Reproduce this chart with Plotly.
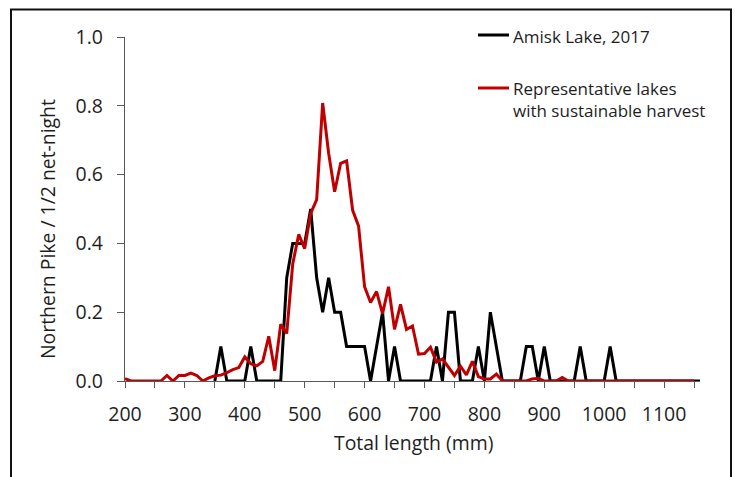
import plotly.graph_objects as go

# ---- data ----
rep_lengths = [200, 210, 220, 230, 240, 250, 260, 270, 280, 290,
               300, 310, 320, 330, 340, 350, 360, 370, 380, 390,
               400, 410, 420, 430, 440, 450, 460, 470, 480, 490,
               500, 510, 520, 530, 540, 550, 560, 570, 580, 590,
               600, 610, 620, 630, 640, 650, 660, 670, 680, 690,
               700, 710, 720, 730, 740, 750, 760, 770, 780, 790,
               800, 810, 820, 830, 840, 850, 860, 870, 880, 890,
               900, 910, 920, 930, 940, 950, 960, 970, 980, 990,
               1000, 1010, 1020, 1030, 1040, 1050, 1060, 1070, 1080, 1090,
               1100, 1110, 1120, 1130, 1140, 1150]
rep_values = [0.007, 0, 0, 0, 0, 0, 0, 0.016, 0, 0.016,
              0.016, 0.023, 0.016, 0, 0.009, 0.015, 0.017, 0.024, 0.033, 0.039,
              0.07, 0.05, 0.044, 0.057, 0.13, 0.03, 0.165, 0.138, 0.34, 0.426,
              0.385, 0.487, 0.527, 0.808, 0.662, 0.55, 0.633, 0.64, 0.497, 0.45,
              0.274, 0.228, 0.26, 0.196, 0.274, 0.15, 0.223, 0.15, 0.16, 0.078,
              0.08, 0.098, 0.055, 0.064, 0.04, 0.016, 0.043, 0.018, 0.057, 0.013,
              0.006, 0.006, 0.02, 0, 0, 0, 0, 0, 0.006, 0.008,
              0, 0, 0, 0.01, 0, 0, 0, 0, 0, 0,
              0, 0, 0, 0, 0, 0, 0, 0, 0, 0,
              0, 0, 0, 0, 0, 0]

amisk_lengths = [350, 360, 370, 380, 390,
                 400, 410, 420, 430, 440, 450, 460, 470, 480, 490,
                 500, 510, 520, 530, 540, 550, 560, 570, 580, 590,
                 600, 610, 620, 630, 640, 650, 660, 670, 680, 690,
                 700, 710, 720, 730, 740, 750, 760, 770, 780, 790,
                 800, 810, 820, 830, 840, 850, 860, 870, 880, 890,
                 900, 910, 920, 930, 940, 950, 960, 970, 980, 990,
                 1000, 1010, 1020, 1030, 1040, 1050, 1060, 1070, 1080, 1090,
                 1100, 1110, 1120, 1130, 1140, 1150, 1160]
amisk_values = [0, 0.1, 0, 0, 0,
                0, 0.1, 0, 0, 0, 0, 0, 0.3, 0.4, 0.4,
                0.4, 0.5, 0.3, 0.2, 0.3, 0.2, 0.2, 0.1, 0.1, 0.1,
                0.1, 0, 0.1, 0.2, 0, 0.1, 0, 0, 0, 0,
                0, 0, 0.1, 0, 0.2, 0.2, 0, 0, 0, 0.1,
                0, 0.2, 0.1, 0, 0, 0, 0, 0.1, 0.1, 0,
                0.1, 0, 0, 0, 0, 0, 0.1, 0, 0, 0,
                0, 0.1, 0, 0, 0, 0, 0, 0, 0, 0,
                0, 0, 0, 0, 0, 0, 0]

x_tickvals = [200, 300, 400, 500, 600, 700, 800, 900, 1000, 1100]
x_ticktext = ["200", "300", "400", "500", "600", "700", "800", "900", "1000", "1100"]
y_tickvals = [0.0, 0.2, 0.4, 0.6, 0.8, 1.0]
y_ticktext = ["0.0", "0.2", "0.4", "0.6", "0.8", "1.0"]

series_names = ["Amisk Lake, 2017", "Representative lakes", "with sustainable harvest"]
x_title = "Total length (mm)"
y_title = "Northern Pike / 1/2 net-night"

BLACK = "#000000"
RED = "#C00000"
AXIS = "#595959"
TEXT = "#1e1e1e"
FONT = "Open Sans"

W, H = 735, 477
L, R, T, B = 125, 35, 37, 96
PW, PH = W - L - R, H - T - B


def px(xpix):
    return (xpix - L) / PW


def py(ypix):
    return (H - B - ypix) / PH


fig = go.Figure()
fig.add_trace(go.Scatter(x=amisk_lengths, y=amisk_values, mode="lines",
                         line=dict(color=BLACK, width=3), showlegend=False,
                         name=series_names[0]))
fig.add_trace(go.Scatter(x=rep_lengths, y=rep_values, mode="lines",
                         line=dict(color=RED, width=3), showlegend=False,
                         name=series_names[1] + " " + series_names[2]))

tickfont = dict(family=FONT, size=19.5, color=TEXT)

fig.update_xaxes(range=[200, 1160], tickvals=x_tickvals, ticktext=x_ticktext,
                 ticks="outside", ticklen=6, tickwidth=1.3, tickcolor=AXIS,
                 showline=True, linecolor=AXIS, linewidth=1.3,
                 showgrid=False, zeroline=False, tickfont=tickfont,
                 ticklabelstandoff=9,
                 minor=dict(dtick=50, tick0=200, ticks="outside", ticklen=6,
                            tickwidth=1.3, tickcolor=AXIS, showgrid=False))
fig.update_yaxes(range=[0, 1.0], tickvals=y_tickvals, ticktext=y_ticktext,
                 ticks="outside", ticklen=7, tickwidth=1.3, tickcolor=AXIS,
                 showline=True, linecolor=AXIS, linewidth=1.3,
                 showgrid=False, zeroline=False, tickfont=tickfont,
                 ticklabelstandoff=10)

annotations = [
    dict(x=px(413), y=py(443), xref="paper", yref="paper", text=x_title,
         showarrow=False, xanchor="center", yanchor="middle",
         font=dict(family=FONT, size=19.4, color=TEXT)),
    dict(x=px(47), y=py(229), xref="paper", yref="paper", text=y_title,
         showarrow=False, xanchor="center", yanchor="middle", textangle=-90,
         font=dict(family=FONT, size=19.4, color=TEXT)),
    dict(x=px(511), y=py(36), xref="paper", yref="paper", text=series_names[0],
         showarrow=False, xanchor="left", yanchor="middle",
         font=dict(family=FONT, size=17, color=TEXT)),
    dict(x=px(511), y=py(88), xref="paper", yref="paper", text=series_names[1],
         showarrow=False, xanchor="left", yanchor="middle",
         font=dict(family=FONT, size=17, color=TEXT)),
    dict(x=px(511), y=py(110), xref="paper", yref="paper", text=series_names[2],
         showarrow=False, xanchor="left", yanchor="middle",
         font=dict(family=FONT, size=17, color=TEXT)),
]

shapes = [
    dict(type="line", xref="paper", yref="paper", x0=px(478), x1=px(509),
         y0=py(35), y1=py(35), line=dict(color=BLACK, width=3)),
    dict(type="line", xref="paper", yref="paper", x0=px(478), x1=px(509),
         y0=py(88), y1=py(88), line=dict(color=RED, width=3)),
    dict(type="rect", xref="paper", yref="paper", x0=px(11), x1=px(731),
         y0=py(485), y1=py(9.5), line=dict(color="#111111", width=2)),
]

fig.update_layout(width=W, height=H, margin=dict(l=L, r=R, t=T, b=B),
                  paper_bgcolor="white", plot_bgcolor="white",
                  annotations=annotations, shapes=shapes,
                  font=dict(family=FONT))

fig.write_html("out.html")
